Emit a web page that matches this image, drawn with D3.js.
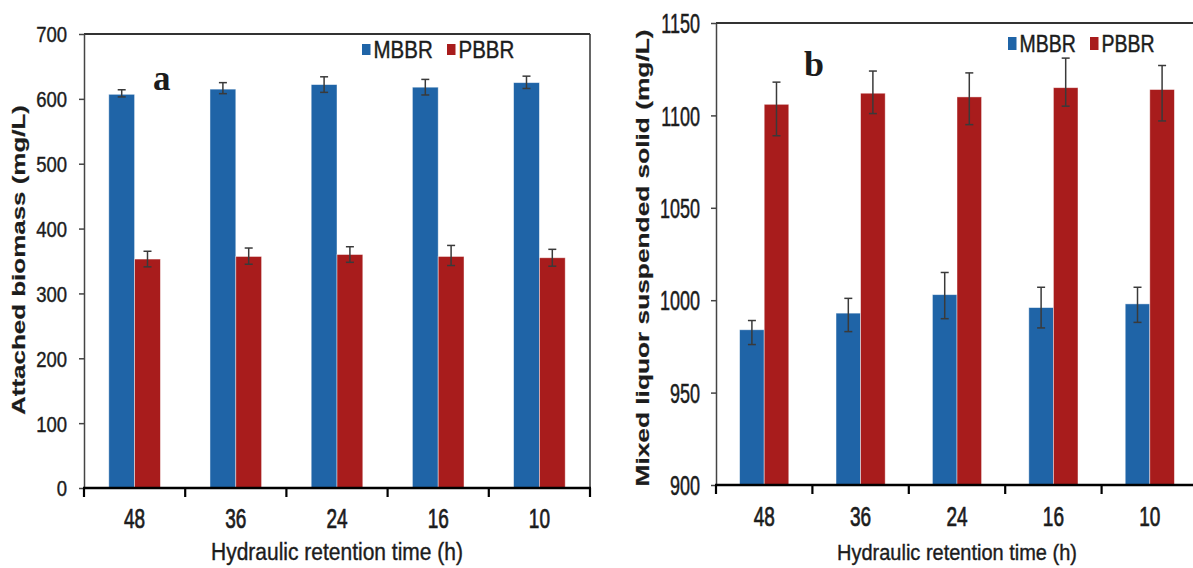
<!DOCTYPE html>
<html lang="en">
<head>
    <meta charset="UTF-8">
    <title>Attached biomass and MLSS</title>
    <script src="https://d3js.org/d3.v7.min.js"></script>
    <style>
        body { margin: 0; background: #fff; }
        svg { display: block; }
        text { font-family: "Liberation Sans", Arial, sans-serif; fill: #1c1c1c; stroke: #1c1c1c; stroke-width: 0.35px; }
    </style>
</head>
<body>
<svg id="viz"></svg>

<script>
    // data
    var hrt = ["48", "36", "24", "16", "10"];
    var series = ["MBBR", "PBBR"];
    var colors = ["#1f64a7", "#a81c1c"];

    // panel a: attached biomass (mg/L)
    var attachedMBBR = [607, 615, 622, 618, 625];
    var attachedMBBRup = [7, 10, 12, 12, 10];
    var attachedMBBRdown = [4, 7, 12, 12, 9];
    var attachedPBBR = [353, 357, 360, 357, 355];
    var attachedPBBRup = [12, 13, 12, 17, 13];
    var attachedPBBRdown = [12, 12, 12, 14, 13];
    var attachedTicks = [0, 100, 200, 300, 400, 500, 600, 700];

    // panel b: mixed liquor suspended solid (mg/L)
    var mlssMBBR = [984, 993, 1003, 996, 998];
    var mlssMBBRup = [5, 8, 12, 11, 9];
    var mlssMBBRdown = [8, 10, 13, 11, 10];
    var mlssPBBR = [1106, 1112, 1110, 1115, 1114];
    var mlssPBBRup = [12, 12, 13, 16, 13];
    var mlssPBBRdown = [17, 11, 15, 10, 17];
    var mlssTicks = [900, 950, 1000, 1050, 1100, 1150];

    var svg = d3.select('#viz')
        .attr('width', 1193)
        .attr('height', 568);

    var panels = [
        {
            letter: 'a', letterX: 153, letterY: 90, letterSize: 35,
            left: 84, right: 590, top: 34, bottom: 488,
            domain: [0, 700], ticks: attachedTicks,
            values: [attachedMBBR, attachedPBBR],
            ups: [attachedMBBRup, attachedPBBRup],
            downs: [attachedMBBRdown, attachedPBBRdown],
            yFont: 18.5, yStretch: 1.2, yPad: 17,
            xBase: 528, xTitle: 'Hydraulic retention time (h)', xTitleSize: 21,
            yTitle: 'Attached biomass (mg/L)', yTitleX: 25, yTitleY: 260, yTitleLen: 310,
            legendX: [362, 447], legendY: 44, legendH: 11, legendBase: 58, legendSize: 20.5,
            showRight: true
        },
        {
            letter: 'b', letterX: 804, letterY: 76, letterSize: 36,
            left: 716, right: 1198, top: 23, bottom: 485,
            domain: [900, 1150], ticks: mlssTicks,
            values: [mlssMBBR, mlssPBBR],
            ups: [mlssMBBRup, mlssPBBRup],
            downs: [mlssMBBRdown, mlssPBBRdown],
            yFont: 18, yStretch: 1.5, yPad: 16,
            xBase: 526, xTitle: 'Hydraulic retention time (h)', xTitleSize: 20,
            yTitle: 'Mixed liquor suspended solid (mg/L)', yTitleX: 649, yTitleY: 258, yTitleLen: 457,
            legendX: [1008, 1090], legendY: 37, legendH: 13, legendBase: 52, legendSize: 19.5,
            showRight: false
        }
    ];

    function drawPanel(p) {
        var g = svg.append('g');

        var x = d3.scaleBand()
            .domain(hrt)
            .range([p.left, p.right]);
        var bw = x.bandwidth();
        var xs = d3.scaleBand()
            .domain(series)
            .range([bw * 0.245, bw * 0.755]);
        var y = d3.scaleLinear()
            .domain(p.domain)
            .range([p.bottom, p.top]);

        // bars
        series.forEach(function (s, si) {
            g.selectAll('.bar' + si)
                .data(hrt)
                .enter()
                .append('rect')
                .attr('x', function (d) { return x(d) + xs(s); })
                .attr('y', function (d, i) { return y(p.values[si][i]); })
                .attr('width', xs.bandwidth())
                .attr('height', function (d, i) { return y(p.domain[0]) - y(p.values[si][i]); })
                .attr('fill', colors[si])
                .attr('stroke', 'rgba(255,255,255,0.55)')
                .attr('stroke-width', 0.8);
        });

        // error bars
        series.forEach(function (s, si) {
            var eb = g.selectAll('.err' + si)
                .data(hrt)
                .enter()
                .append('g')
                .attr('stroke', '#3a3a3a')
                .attr('stroke-width', 1.5);
            function cx(d) { return x(d) + xs(s) + xs.bandwidth() / 2; }
            eb.append('line')
                .attr('x1', cx).attr('x2', cx)
                .attr('y1', function (d, i) { return y(p.values[si][i] + p.ups[si][i]); })
                .attr('y2', function (d, i) { return y(p.values[si][i] - p.downs[si][i]); });
            eb.append('line')
                .attr('x1', function (d) { return cx(d) - 4; })
                .attr('x2', function (d) { return cx(d) + 4; })
                .attr('y1', function (d, i) { return y(p.values[si][i] + p.ups[si][i]); })
                .attr('y2', function (d, i) { return y(p.values[si][i] + p.ups[si][i]); });
            eb.append('line')
                .attr('x1', function (d) { return cx(d) - 4; })
                .attr('x2', function (d) { return cx(d) + 4; })
                .attr('y1', function (d, i) { return y(p.values[si][i] - p.downs[si][i]); })
                .attr('y2', function (d, i) { return y(p.values[si][i] - p.downs[si][i]); });
        });

        // frame: top and right
        g.append('line')
            .attr('x1', p.left).attr('x2', p.right)
            .attr('y1', p.top).attr('y2', p.top)
            .attr('stroke', '#333').attr('stroke-width', 2);
        if (p.showRight) {
            g.append('line')
                .attr('x1', p.right).attr('x2', p.right)
                .attr('y1', p.top).attr('y2', p.bottom)
                .attr('stroke', '#333').attr('stroke-width', 1.5);
        }

        // y axis
        var yAxis = g.append('g')
            .attr('transform', 'translate(' + p.left + ',0)')
            .call(d3.axisLeft(y).tickValues(p.ticks).tickSize(5).tickSizeOuter(0).tickFormat(d3.format('d')));
        yAxis.select('.domain').attr('stroke', '#444').attr('stroke-width', 1.5);
        yAxis.selectAll('.tick line').attr('stroke', '#444').attr('stroke-width', 1.5);
        yAxis.selectAll('.tick text')
            .attr('x', null).attr('dy', null).attr('y', null)
            .style('font-size', p.yFont + 'px')
            .style('font-family', '"Liberation Sans", Arial, sans-serif')
            .attr('fill', '#1c1c1c')
            .attr('transform', 'translate(' + (-p.yPad) + ',' + (0.358 * p.yFont * p.yStretch) + ') scale(1,' + p.yStretch + ')');

        // x axis: line, ticks at category edges, labels at centres
        var edges = hrt.map(function (d) { return x(d); }).concat([p.right]);
        g.append('line')
            .attr('x1', p.left - 1).attr('x2', p.right + 1)
            .attr('y1', p.bottom).attr('y2', p.bottom)
            .attr('stroke', '#000').attr('stroke-width', 2.5);
        g.selectAll('.xtick')
            .data(edges)
            .enter()
            .append('line')
            .attr('x1', function (d) { return d; }).attr('x2', function (d) { return d; })
            .attr('y1', p.bottom).attr('y2', p.bottom + 9)
            .attr('stroke', '#000').attr('stroke-width', 2.2);
        g.selectAll('.xlabel')
            .data(hrt)
            .enter()
            .append('text')
            .attr('text-anchor', 'middle')
            .style('font-size', '19px')
            .style('stroke-width', '0.5px')
            .attr('transform', function (d) {
                return 'translate(' + (x(d) + bw / 2) + ',' + p.xBase + ') scale(1,1.47)';
            })
            .text(function (d) { return d; });

        // axis titles
        g.append('text')
            .attr('text-anchor', 'middle')
            .style('font-size', p.xTitleSize + 'px')
            .attr('transform', 'translate(' + ((p.left + p.right) / 2) + ',560) scale(1,1.12)')
            .text(p.xTitle);
        g.append('text')
            .attr('text-anchor', 'middle')
            .style('font-size', '18px')
            .style('font-weight', 'bold')
            .style('stroke-width', '0.2px')
            .attr('textLength', p.yTitleLen)
            .attr('lengthAdjust', 'spacingAndGlyphs')
            .attr('transform', 'translate(' + p.yTitleX + ',' + p.yTitleY + ') rotate(-90)')
            .text(p.yTitle);

        // legend
        series.forEach(function (s, si) {
            g.append('rect')
                .attr('x', p.legendX[si]).attr('y', p.legendY)
                .attr('width', 8.5).attr('height', p.legendH)
                .attr('fill', colors[si]);
            g.append('text')
                .style('font-size', p.legendSize + 'px')
                .attr('transform', 'translate(' + (p.legendX[si] + 11.5) + ',' + p.legendBase + ') scale(1,1.2)')
                .text(s);
        });

        // panel letter
        g.append('text')
            .style('font-family', '"Liberation Serif", "Times New Roman", serif')
            .style('font-weight', 'bold')
            .style('font-size', p.letterSize + 'px')
            .style('stroke-width', '0px')
            .attr('fill', '#000')
            .attr('x', p.letterX).attr('y', p.letterY)
            .text(p.letter);
    }

    panels.forEach(drawPanel);
</script>
</body>
</html>
